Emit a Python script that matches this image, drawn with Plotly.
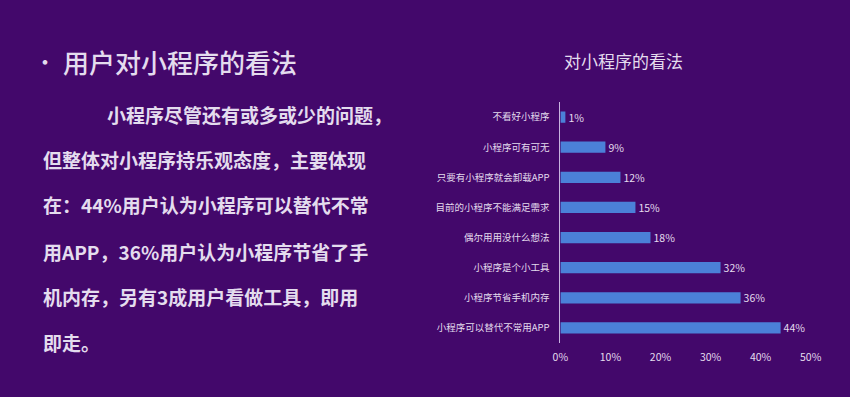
import plotly.graph_objects as go

categories = ["小程序可以替代不常用APP", "小程序节省手机内存", "小程序是个小工具", "偶尔用用没什么想法",
              "目前的小程序不能满足需求", "只要有小程序就会卸载APP", "小程序可有可无", "不看好小程序"]
values = [44, 36, 32, 18, 15, 12, 9, 1]
value_labels = ["44%", "36%", "32%", "18%", "15%", "12%", "9%", "1%"]
x_ticks = [0, 10, 20, 30, 40, 50]
x_tick_labels = ["0%", "10%", "20%", "30%", "40%", "50%"]

chart_title = "对小程序的看法"
bullet = "•"
heading = "用户对小程序的看法"
paragraph_lines = [
    "小程序尽管还有或多或少的问题，",
    "但整体对小程序持乐观态度，主要体现",
    "在：44%用户认为小程序可以替代不常",
    "用APP，36%用户认为小程序节省了手",
    "机内存，另有3成用户看做工具，即用",
    "即走。",
]

W, H = 850, 397
BG = "#43086b"
TXT = "#e4dcee"
FONT = "Noto Sans CJK SC"

fig = go.Figure()
fig.add_trace(go.Bar(
    y=categories, x=values, orientation="h",
    marker=dict(color="#4b80d8", line=dict(width=0)),
    width=0.37,
    text=value_labels, textposition="outside", constraintext="none",
    textfont=dict(size=10.5, color=TXT, family=FONT),
    cliponaxis=False,
))

annotations = []
annotations.append(dict(text=chart_title, x=630 / W, y=1 - 60 / H, xref="paper", yref="paper",
                        xanchor="center", yanchor="middle", showarrow=False,
                        font=dict(size=17, color=TXT, family=FONT)))
annotations.append(dict(text=bullet, x=38 / W, y=1 - 60 / H, xref="paper", yref="paper",
                        xanchor="center", yanchor="middle", showarrow=False,
                        font=dict(size=22, color=TXT, family=FONT)))
annotations.append(dict(text=heading, x=54 / W, y=1 - 61 / H, xref="paper", yref="paper",
                        xanchor="left", yanchor="middle", showarrow=False,
                        font=dict(size=26, color=TXT, family=FONT, weight=500)))
line_y = [115, 160, 205, 251, 296, 342]
for i, (ln, yy) in enumerate(zip(paragraph_lines, line_y)):
    x0 = 99 if i == 0 else 34
    annotations.append(dict(text="<b>" + ln + "</b>", x=x0 / W, y=1 - yy / H, xref="paper", yref="paper",
                            xanchor="left", yanchor="middle", showarrow=False,
                            font=dict(size=19, color=TXT, family=FONT)))

fig.update_layout(
    width=W, height=H,
    margin=dict(l=0, r=0, t=0, b=0),
    paper_bgcolor=BG, plot_bgcolor=BG,
    showlegend=False,
    annotations=annotations,
    xaxis=dict(domain=[565 / W, 821 / W], range=[0, 50], tickvals=x_ticks, ticktext=x_tick_labels,
               showgrid=False, zeroline=False, showline=False, ticks="",
               tickfont=dict(size=10.5, color=TXT, family=FONT), ticklabelstandoff=6, fixedrange=True),
    yaxis=dict(domain=[1 - 343 / H, 1 - 102 / H], showgrid=False, zeroline=False,
               showline=True, linecolor="#c8b4e0", linewidth=1, ticks="",
               tickfont=dict(size=9.5, color=TXT, family=FONT), ticklabelstandoff=8,
               categoryorder="array", categoryarray=categories, fixedrange=True),
)

fig.write_html("out.html")
